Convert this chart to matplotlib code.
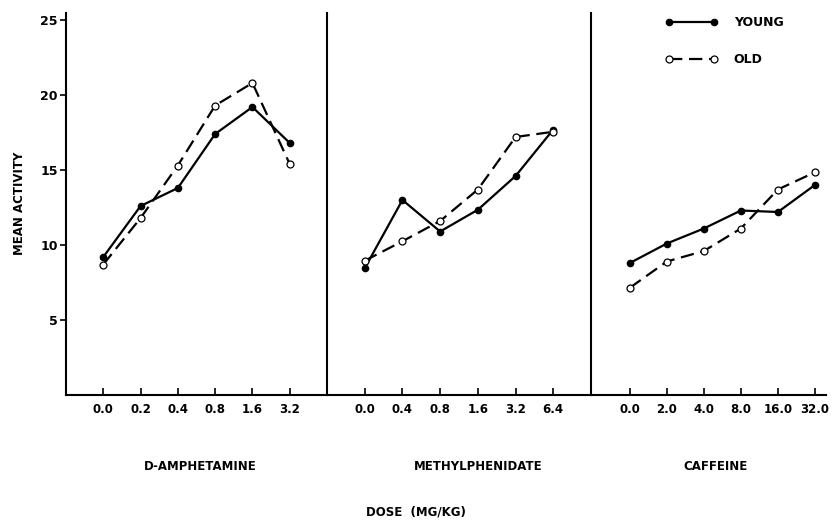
import matplotlib
matplotlib.use("Agg")
import matplotlib.pyplot as plt

# dose labels per drug (plotted at equal spacing)
amph_doses = ["0.0", "0.2", "0.4", "0.8", "1.6", "3.2"]
meth_doses = ["0.0", "0.4", "0.8", "1.6", "3.2", "6.4"]
caff_doses = ["0.0", "2.0", "4.0", "8.0", "16.0", "32.0"]

# mean activity, young vs old
amph_young = [9.2, 12.6, 13.8, 17.4, 19.2, 16.8]
amph_old = [8.7, 11.8, 15.3, 19.3, 20.8, 15.4]
meth_young = [8.45, 13.0, 10.9, 12.35, 14.6, 17.7]
meth_old = [8.95, 10.25, 11.6, 13.7, 17.2, 17.55]
caff_young = [8.8, 10.1, 11.1, 12.3, 12.2, 14.0]
caff_old = [7.15, 8.9, 9.6, 11.1, 13.7, 14.85]

drugs = ["D-AMPHETAMINE", "METHYLPHENIDATE", "CAFFEINE"]

W, H = 832, 524
fig = plt.figure(figsize=(W / 100, H / 100), dpi=100)
plt.rcParams["font.family"] = "DejaVu Sans"

bot, top = 395, 12.5
# panel pixel extents (left, right) and x limits
panels = [
    (66, 327, (-1, 6), amph_doses, amph_young, amph_old),
    (327, 591, (-1, 6), meth_doses, meth_young, meth_old),
    (591, 826, (-1.05, 5.3), caff_doses, caff_young, caff_old),
]

axes = []
for i, (l, r, xl, doses, young, old) in enumerate(panels):
    ax = fig.add_axes([l / W, (H - bot) / H, (r - l) / W, (bot - top) / H])
    x = list(range(len(doses)))
    ax.plot(x, young, "-", color="black", lw=1.6, marker="o", ms=4.5,
            mfc="black", mec="black", label="YOUNG", zorder=3)
    ax.plot(x, old, color="black", lw=1.6, ls=(0, (6, 3)), marker="o", ms=5,
            mfc="white", mec="black", mew=0.9, label="OLD", zorder=4)
    ax.set_xlim(*xl)
    ax.set_ylim(0, 25.5)
    ax.set_xticks(x)
    ax.set_xticklabels(doses, fontsize=8.5, fontweight="bold")
    ax.tick_params(axis="x", direction="in", length=5, width=1.2, pad=6)
    for s in ["top", "right"]:
        ax.spines[s].set_visible(False)
    for s in ["left", "bottom"]:
        ax.spines[s].set_linewidth(1.5)
    if i == 0:
        ax.set_yticks([5, 10, 15, 20, 25])
        ax.set_yticklabels(["5", "10", "15", "20", "25"], fontsize=9, fontweight="bold")
        ax.tick_params(axis="y", direction="out", length=4, width=1.2, pad=2)
        ax.set_ylabel("MEAN ACTIVITY", fontsize=8.5, fontweight="bold", labelpad=10)
    else:
        ax.set_yticks([])
    axes.append(ax)

axes[2].legend(loc="upper left", bbox_to_anchor=(0.315, 0.99), frameon=False,
               borderpad=0, borderaxespad=0, handlelength=4.2, handletextpad=1.3,
               labelspacing=1.9, numpoints=2, prop={"size": 9, "weight": "bold"})

# drug names under each panel
for name, xc in zip(drugs, [200, 478, 716]):
    fig.text(xc / W, 1 - 466 / H, name, ha="center", va="center",
             fontsize=8.5, fontweight="bold")
fig.text(416 / W, 1 - 512 / H, "DOSE  (MG/KG)", ha="center", va="center",
         fontsize=8.5, fontweight="bold")

fig.savefig("out.png", dpi=100)
